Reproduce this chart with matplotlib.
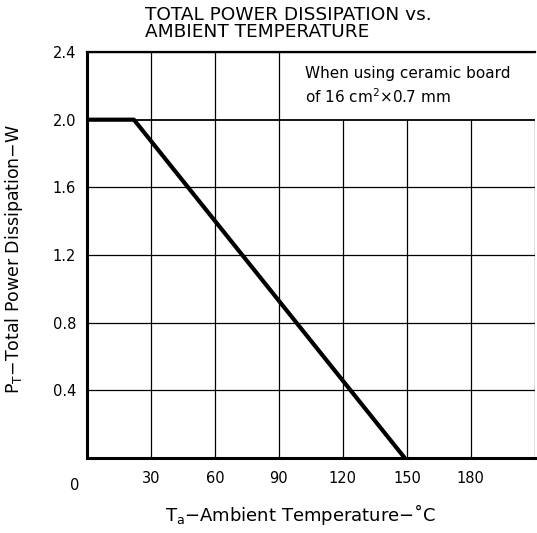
import matplotlib
matplotlib.use("Agg")
import matplotlib.pyplot as plt

# Data
temp = [0, 22, 149]
power = [2.0, 2.0, 0.0]
x_ticks = [30, 60, 90, 120, 150, 180, 210]
x_tick_labels = ["30", "60", "90", "120", "150", "180", ""]
y_ticks = [0.4, 0.8, 1.2, 1.6, 2.0, 2.4]
y_tick_labels = ["0.4", "0.8", "1.2", "1.6", "2.0", "2.4"]
# grid lines stop under the note box for these temperatures
note_cols = [120, 150, 180, 210]

plt.rcParams['font.family'] = ['DejaVu Sans']
fig = plt.figure(figsize=(5.37, 5.33), dpi=100)
ax = fig.add_axes([0.162, 0.1407, 0.834, 0.7617])
ax.set_xlim(0, 210)
ax.set_ylim(0, 2.4)

for xv in x_ticks:
    top = 2.0 if xv in note_cols else 2.4
    ax.vlines(xv, 0, top, color='black', lw=0.9, zorder=1)
for yv in y_ticks:
    ax.axhline(yv, color='black', lw=1.3 if yv == 2.0 else 0.9, zorder=1)

ax.plot(temp, power, color='black', lw=3.0, solid_capstyle='butt', zorder=3)

ax.spines['right'].set_visible(False)
ax.spines['left'].set_linewidth(2.2)
ax.spines['bottom'].set_linewidth(2.2)
ax.spines['top'].set_linewidth(1.6)

ax.set_xticks(x_ticks)
ax.set_xticklabels(x_tick_labels, fontsize=10.5)
ax.set_yticks(y_ticks)
ax.set_yticklabels(y_tick_labels, fontsize=10.5)
ax.tick_params(length=0, pad=9)
ax.tick_params(axis='y', pad=8)
ax.text(-3.5, -0.12, "0", ha='right', va='top', fontsize=10.5, transform=ax.transData)

ax.text(0.487, 0.965, "When using ceramic board\nof 16 cm$^2$\u00d70.7 mm",
        transform=ax.transAxes, fontsize=11, va='top', ha='left', linespacing=1.4)

fig.text(0.27, 0.988, "TOTAL POWER DISSIPATION vs.\nAMBIENT TEMPERATURE",
         ha='left', va='top', fontsize=13.3, linespacing=0.9)
fig.text(0.559, 0.012, "T$_\\mathregular{a}$\u2212Ambient Temperature\u2212\u02daC",
         ha='center', va='bottom', fontsize=13)
fig.text(0.026, 0.515, "P$_\\mathregular{T}$\u2212Total Power Dissipation\u2212W",
         ha='center', va='center', rotation=90, fontsize=12.5)

fig.savefig("out.png", dpi=100)
